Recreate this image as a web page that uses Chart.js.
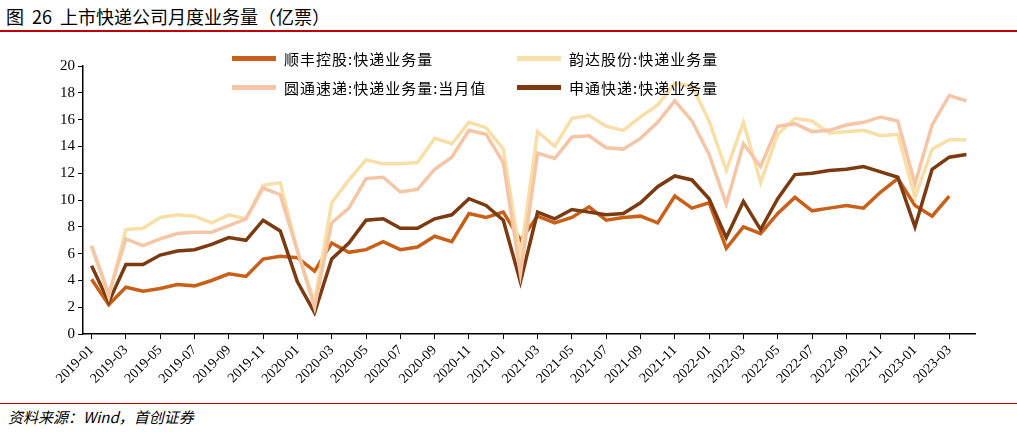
<!DOCTYPE html>
<html><head><meta charset="utf-8">
<script src="https://cdn.jsdelivr.net/npm/chart.js@4"></script>
<style>
body{margin:0;width:1017px;height:432px;background:#fff;position:relative;overflow:hidden;font-family:"Liberation Serif","Noto Sans CJK SC",serif}
#title{position:absolute;left:6px;top:3px;font-size:18px;font-family:"Noto Sans CJK SC";color:#000;word-spacing:4px}
#tl{position:absolute;left:0;top:30px;width:1017px;height:2px;background:#c00000}
#bl{position:absolute;left:0;top:403px;width:1017px;height:1px;background:#c00000}
#src{position:absolute;left:8px;top:406px;font-size:15px;font-style:italic;font-family:"Noto Sans CJK SC";}
#wrap{position:absolute;left:0;top:36px;width:1010px;height:354px}
.lg{position:absolute;font-size:15px;font-family:"Noto Sans CJK SC";display:flex;align-items:center;white-space:nowrap;letter-spacing:1px}
.lg span.k{display:inline-block;width:44px;height:5px;margin-right:8px}
</style></head><body>
<div id="title">图 26 上市快递公司月度业务量（亿票）</div>
<div id="tl"></div>
<div id="wrap"><canvas id="c"></canvas></div>
<div class="lg" style="left:232px;top:48px"><span class="k" style="background:#C8601A"></span>顺丰控股:快递业务量</div>
<div class="lg" style="left:517px;top:48px"><span class="k" style="background:#F8DFA8"></span>韵达股份:快递业务量</div>
<div class="lg" style="left:232px;top:77px"><span class="k" style="background:#F5C6A5"></span>圆通速递:快递业务量:当月值</div>
<div class="lg" style="left:517px;top:77px"><span class="k" style="background:#7B3A10"></span>申通快递:快递业务量</div>
<div id="bl"></div>
<div id="src">资料来源：Wind，首创证券</div>
<script>
const categories=[];
for(let y=2019;y<=2023;y++)for(let m=1;m<=12;m++){if(y===2023&&m>4)break;categories.push(y+'-'+String(m).padStart(2,'0'));}
const sf=[4.1,2.2,3.5,3.2,3.4,3.7,3.6,4.0,4.5,4.3,5.6,5.8,
5.7,4.7,6.8,6.1,6.3,6.9,6.3,6.5,7.3,6.9,9.0,8.7,
9.1,7.0,8.8,8.3,8.7,9.5,8.5,8.7,8.8,8.3,10.3,9.4,
9.8,6.4,8.0,7.5,9.0,10.2,9.2,9.4,9.6,9.4,10.6,11.6,
9.6,8.8,10.3,null];
const yunda=[6.5,2.8,7.8,7.9,8.7,8.9,8.8,8.3,8.9,8.6,11.1,11.3,
6.2,2.4,9.8,11.5,13.0,12.7,12.7,12.8,14.6,14.2,15.8,15.4,
13.8,5.8,15.1,14.0,16.1,16.3,15.5,15.2,16.2,17.1,18.7,18.5,
15.9,12.2,15.8,11.3,14.9,16.1,15.9,15.0,15.1,15.2,14.8,14.9,
10.2,13.8,14.5,14.5];
const yto=[6.6,3.0,7.1,6.6,7.1,7.5,7.6,7.6,8.1,8.6,10.9,10.4,
6.2,2.0,8.3,9.4,11.6,11.7,10.6,10.8,12.3,13.2,15.2,14.9,
12.8,4.5,13.5,13.1,14.7,14.8,13.9,13.8,14.6,15.8,17.4,15.9,
13.4,9.7,14.2,12.5,15.5,15.7,15.1,15.2,15.6,15.8,16.2,15.9,
11.2,15.6,17.8,17.4];
const sto=[5.1,2.4,5.2,5.2,5.9,6.2,6.3,6.7,7.2,7.0,8.5,7.7,
3.9,1.6,5.6,6.8,8.5,8.6,7.9,7.9,8.6,8.9,10.1,9.6,
8.5,3.9,9.1,8.6,9.3,9.1,8.9,9.0,9.8,11.0,11.8,11.5,
10.1,7.2,9.9,7.8,10.1,11.9,12.0,12.2,12.3,12.5,12.1,11.7,
8.0,12.3,13.2,13.4];
const ds=(l,d,c)=>({label:l,data:d,borderColor:c,backgroundColor:c,borderWidth:3.5,pointRadius:0,tension:0,spanGaps:false});
new Chart(document.getElementById('c'),{type:'line',
data:{labels:categories,datasets:[ds('圆通速递:快递业务量:当月值',yto,'#F5C6A5'),ds('韵达股份:快递业务量',yunda,'#F8DFA8'),ds('申通快递:快递业务量',sto,'#7B3A10'),ds('顺丰控股:快递业务量',sf,'#C8601A')]},
options:{responsive:true,maintainAspectRatio:false,animation:false,
layout:{padding:{left:57,right:35,top:30,bottom:0}},
plugins:{legend:{display:false},tooltip:{enabled:false}},
scales:{
x:{offset:true,grid:{drawOnChartArea:false,offset:false,color:'#000',tickLength:5},border:{color:'#000',width:1.5},
ticks:{autoSkip:false,maxRotation:45,minRotation:45,color:'#000',font:{family:'Liberation Serif',size:14},
callback:(v,i)=>i%2===0?categories[i]:null}},
y:{min:0,max:20,grid:{drawOnChartArea:false,color:'#000',tickLength:5},border:{color:'#000',width:1.5},
ticks:{stepSize:2,color:'#000',font:{family:'Liberation Serif',size:15}}}
}}});
</script></body></html>
